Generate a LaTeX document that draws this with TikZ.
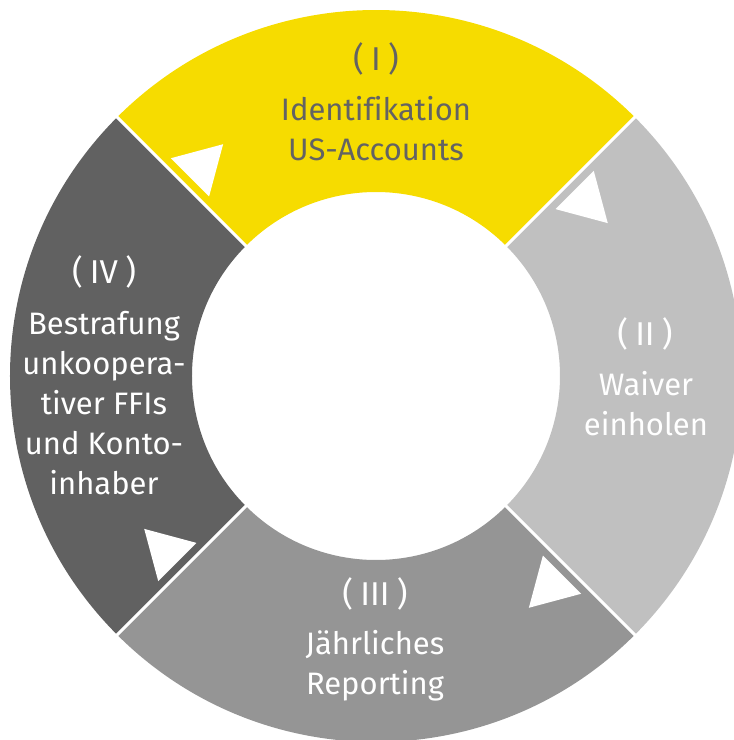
\documentclass[tikz,border=0pt]{standalone}
\usepackage{fontspec}
\setmainfont{Fira Sans}[Ligatures=NoCommon]
\usepackage{tikz}
\usetikzlibrary{positioning}
\usepackage{xcolor}
\definecolor{eyyellow}{RGB}{246,220,0}
\definecolor{ringlight}{RGB}{192,192,192}
\definecolor{ringmid}{RGB}{149,149,149}
\definecolor{ringdark}{RGB}{97,97,97}
\definecolor{labelgray}{RGB}{99,99,99}
\tikzset{
	stage num/.style={inner sep=0, anchor=base, font=\fontsize{33}{40}\selectfont},
	stage text/.style={inner sep=0, anchor=north, align=center, font=\fontsize{31}{40}\selectfont},
	segment/.style={fill=#1}
}
\newcommand{\stagenr}[1]{(\kern.22em#1\kern.22em)}

\begin{document}
\begin{tikzpicture}[x=1pt, y=1pt]
	\useasboundingbox (-376,-364) rectangle (358,376);
	
	% ring segments, outer radius 366, inner radius 184
	\fill[segment=eyyellow] (45:366) arc[start angle=45, end angle=135, radius=366] -- (135:184) arc[start angle=135, end angle=45, radius=184] -- cycle;
	\fill[segment=ringlight] (-45:366) arc[start angle=-45, end angle=45, radius=366] -- (45:184) arc[start angle=45, end angle=-45, radius=184] -- cycle;
	\fill[segment=ringmid] (-135:366) arc[start angle=-135, end angle=-45, radius=366] -- (-45:184) arc[start angle=-45, end angle=-135, radius=184] -- cycle;
	\fill[segment=ringdark] (135:366) arc[start angle=135, end angle=225, radius=366] -- (225:184) arc[start angle=225, end angle=135, radius=184] -- cycle;
	
	% white gaps and arrow heads
	\foreach \a in {45, 135, 225, 315} \draw[white, line width=3pt] (\a:180) -- (\a:372);
	\foreach \a in {45, 135, 225, 315} \fill[white, rotate=\a-90] (9,245) -- (55.8,272) -- (9,299) -- cycle;
	
	\node[stage num, labelgray] (n1) at (0,306) {\stagenr{I}};
	\node[stage text, labelgray] (t1) at (0,280) {Identifikation\\US-Accounts};
	
	\node[stage num, white] (n2) at (269,31) {\stagenr{II}};
	\node[stage text, white] (t2) at (270,5) {Waiver\\einholen};
	
	\node[stage num, white] (n3) at (-1,-229) {\stagenr{III}};
	\node[stage text, white] (t3) at (-1,-254) {Jährliches\\Reporting};
	
	\node[stage num, white] (n4) at (-272,93) {\stagenr{IV}};
	\node[stage text, white] (t4) at (-272,65) {Bestrafung\\unkoopera-\\tiver FFIs\\und Konto-\\inhaber};
\end{tikzpicture}
\end{document}
